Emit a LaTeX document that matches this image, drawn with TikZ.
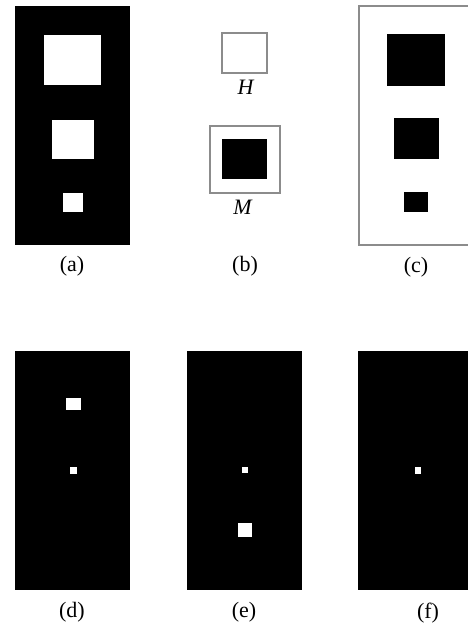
\documentclass[tikz,border=0pt]{standalone}
\usepackage{fontspec}
\setmainfont{Liberation Serif}

\begin{document}
\begin{tikzpicture}[x=1pt,y=-1pt,line join=miter,
  blk/.style={fill=black},
  hole/.style={fill=white},
  frame/.style={draw=black!45,line width=1.3pt},
  lbl/.style={font=\fontsize{22}{25}\selectfont,inner sep=0pt}]
\useasboundingbox (0,0) rectangle (468,630);
% (a) black plate with three holes
\fill[blk] (15,6) rectangle (130,245);
\fill[hole] (44,35) rectangle (101,85);
\fill[hole] (52,120) rectangle (94,159);
\fill[hole] (63,193) rectangle (83,212);
\node[lbl] (la) at (72,266) {(a)};
% (b) structuring elements
\draw[frame] (222,33) rectangle (267,73);
\node[lbl] (H) at (246,87) {\textit{H}};
\draw[frame] (210,126) rectangle (280,193);
\fill[blk] (222,139) rectangle (267,179);
\node[lbl] (M) at (243,207) {\textit{M}};
\node[lbl] (lb) at (245,266) {(b)};
% (c) complement
\draw[frame] (359,6) rectangle (476,245);
\fill[blk] (387,34) rectangle (445,86);
\fill[blk] (394,118) rectangle (439,159);
\fill[blk] (404,192) rectangle (428,212);
\node[lbl] (lc) at (416,267) {(c)};
% (d)
\fill[blk] (15,351) rectangle (130,590);
\fill[hole] (66,398) rectangle (81,410);
\fill[hole] (70,467) rectangle (77,474);
\node[lbl] (ld) at (72,612) {(d)};
% (e)
\fill[blk] (187,351) rectangle (302,590);
\fill[hole] (242,467) rectangle (248,473);
\fill[hole] (238,523) rectangle (252,537);
\node[lbl] (le) at (244,612) {(e)};
% (f)
\fill[blk] (358,351) rectangle (476,590);
\fill[hole] (415,467) rectangle (421,474);
\node[lbl] (lf) at (428,613) {(f)};
\end{tikzpicture}
\end{document}
